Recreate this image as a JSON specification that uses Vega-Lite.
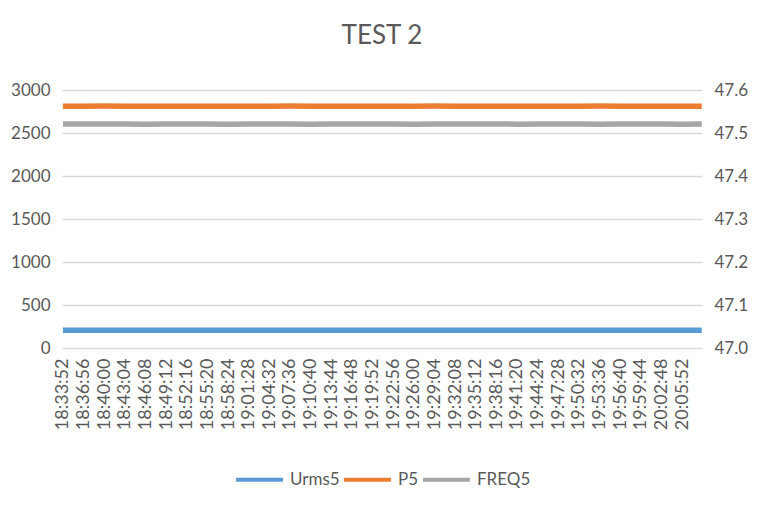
{
  "$schema": "https://vega.github.io/schema/vega-lite/v6.json",
  "width": 640,
  "height": 258,
  "autosize": {"type": "pad"},
  "padding": {"left": 10, "right": 32, "top": 23, "bottom": 20},
  "background": "white",
  "config": {"view": {"stroke": null}, "font": "Lato", "legend": {"layout": {"bottom": {"anchor": "middle"}}}},
  "title": {"text": "TEST 2", "font": "Lato", "fontSize": 26, "fontWeight": "normal", "color": "#595959", "offset": 32},
  "data": {"values": [
    {"t": "2024-01-01T18:33:52", "Urms5": 205, "P5": 2812, "FREQ5": 47.521},
    {"t": "2024-01-01T18:36:56", "Urms5": 205, "P5": 2811, "FREQ5": 47.521},
    {"t": "2024-01-01T18:40:00", "Urms5": 205, "P5": 2813, "FREQ5": 47.521},
    {"t": "2024-01-01T18:43:04", "Urms5": 205, "P5": 2812, "FREQ5": 47.521},
    {"t": "2024-01-01T18:46:08", "Urms5": 205, "P5": 2811, "FREQ5": 47.5205},
    {"t": "2024-01-01T18:49:12", "Urms5": 205, "P5": 2812, "FREQ5": 47.521},
    {"t": "2024-01-01T18:52:16", "Urms5": 205, "P5": 2811, "FREQ5": 47.521},
    {"t": "2024-01-01T18:55:20", "Urms5": 205, "P5": 2812, "FREQ5": 47.521},
    {"t": "2024-01-01T18:58:24", "Urms5": 205, "P5": 2812, "FREQ5": 47.5205},
    {"t": "2024-01-01T19:01:28", "Urms5": 205, "P5": 2811, "FREQ5": 47.521},
    {"t": "2024-01-01T19:04:32", "Urms5": 205, "P5": 2812, "FREQ5": 47.521},
    {"t": "2024-01-01T19:07:36", "Urms5": 205, "P5": 2813, "FREQ5": 47.521},
    {"t": "2024-01-01T19:10:40", "Urms5": 205, "P5": 2812, "FREQ5": 47.5205},
    {"t": "2024-01-01T19:13:44", "Urms5": 205, "P5": 2811, "FREQ5": 47.521},
    {"t": "2024-01-01T19:16:48", "Urms5": 205, "P5": 2812, "FREQ5": 47.521},
    {"t": "2024-01-01T19:19:52", "Urms5": 205, "P5": 2812, "FREQ5": 47.521},
    {"t": "2024-01-01T19:22:56", "Urms5": 205, "P5": 2811, "FREQ5": 47.521},
    {"t": "2024-01-01T19:26:00", "Urms5": 205, "P5": 2812, "FREQ5": 47.5205},
    {"t": "2024-01-01T19:29:04", "Urms5": 205, "P5": 2813, "FREQ5": 47.521},
    {"t": "2024-01-01T19:32:08", "Urms5": 205, "P5": 2812, "FREQ5": 47.521},
    {"t": "2024-01-01T19:35:12", "Urms5": 205, "P5": 2811, "FREQ5": 47.521},
    {"t": "2024-01-01T19:38:16", "Urms5": 205, "P5": 2812, "FREQ5": 47.521},
    {"t": "2024-01-01T19:41:20", "Urms5": 205, "P5": 2812, "FREQ5": 47.5205},
    {"t": "2024-01-01T19:44:24", "Urms5": 205, "P5": 2811, "FREQ5": 47.521},
    {"t": "2024-01-01T19:47:28", "Urms5": 205, "P5": 2812, "FREQ5": 47.521},
    {"t": "2024-01-01T19:50:32", "Urms5": 205, "P5": 2812, "FREQ5": 47.521},
    {"t": "2024-01-01T19:53:36", "Urms5": 205, "P5": 2813, "FREQ5": 47.5205},
    {"t": "2024-01-01T19:56:40", "Urms5": 205, "P5": 2812, "FREQ5": 47.521},
    {"t": "2024-01-01T19:59:44", "Urms5": 205, "P5": 2811, "FREQ5": 47.521},
    {"t": "2024-01-01T20:02:48", "Urms5": 205, "P5": 2812, "FREQ5": 47.521},
    {"t": "2024-01-01T20:05:52", "Urms5": 205, "P5": 2812, "FREQ5": 47.5205},
    {"t": "2024-01-01T20:08:48", "Urms5": 205, "P5": 2811, "FREQ5": 47.521}
  ]},
  "encoding": {
    "x": {
      "field": "t", "type": "temporal",
      "scale": {"domain": [
        {"year": 2024, "month": 1, "date": 1, "hours": 18, "minutes": 33, "seconds": 44},
        {"year": 2024, "month": 1, "date": 1, "hours": 20, "minutes": 8, "seconds": 50}
      ]},
      "axis": {
        "title": null,
        "format": "%H:%M:%S",
        "labelAngle": -90,
        "labelFontSize": 18,
        "labelColor": "#595959",
        "labelPadding": 10,
        "ticks": false,
        "domain": false,
        "grid": false,
        "labelOverlap": false,
        "labelFlush": false,
        "values": [
          {"year": 2024, "month": 1, "date": 1, "hours": 18, "minutes": 33, "seconds": 52},
          {"year": 2024, "month": 1, "date": 1, "hours": 18, "minutes": 36, "seconds": 56},
          {"year": 2024, "month": 1, "date": 1, "hours": 18, "minutes": 40, "seconds": 0},
          {"year": 2024, "month": 1, "date": 1, "hours": 18, "minutes": 43, "seconds": 4},
          {"year": 2024, "month": 1, "date": 1, "hours": 18, "minutes": 46, "seconds": 8},
          {"year": 2024, "month": 1, "date": 1, "hours": 18, "minutes": 49, "seconds": 12},
          {"year": 2024, "month": 1, "date": 1, "hours": 18, "minutes": 52, "seconds": 16},
          {"year": 2024, "month": 1, "date": 1, "hours": 18, "minutes": 55, "seconds": 20},
          {"year": 2024, "month": 1, "date": 1, "hours": 18, "minutes": 58, "seconds": 24},
          {"year": 2024, "month": 1, "date": 1, "hours": 19, "minutes": 1, "seconds": 28},
          {"year": 2024, "month": 1, "date": 1, "hours": 19, "minutes": 4, "seconds": 32},
          {"year": 2024, "month": 1, "date": 1, "hours": 19, "minutes": 7, "seconds": 36},
          {"year": 2024, "month": 1, "date": 1, "hours": 19, "minutes": 10, "seconds": 40},
          {"year": 2024, "month": 1, "date": 1, "hours": 19, "minutes": 13, "seconds": 44},
          {"year": 2024, "month": 1, "date": 1, "hours": 19, "minutes": 16, "seconds": 48},
          {"year": 2024, "month": 1, "date": 1, "hours": 19, "minutes": 19, "seconds": 52},
          {"year": 2024, "month": 1, "date": 1, "hours": 19, "minutes": 22, "seconds": 56},
          {"year": 2024, "month": 1, "date": 1, "hours": 19, "minutes": 26, "seconds": 0},
          {"year": 2024, "month": 1, "date": 1, "hours": 19, "minutes": 29, "seconds": 4},
          {"year": 2024, "month": 1, "date": 1, "hours": 19, "minutes": 32, "seconds": 8},
          {"year": 2024, "month": 1, "date": 1, "hours": 19, "minutes": 35, "seconds": 12},
          {"year": 2024, "month": 1, "date": 1, "hours": 19, "minutes": 38, "seconds": 16},
          {"year": 2024, "month": 1, "date": 1, "hours": 19, "minutes": 41, "seconds": 20},
          {"year": 2024, "month": 1, "date": 1, "hours": 19, "minutes": 44, "seconds": 24},
          {"year": 2024, "month": 1, "date": 1, "hours": 19, "minutes": 47, "seconds": 28},
          {"year": 2024, "month": 1, "date": 1, "hours": 19, "minutes": 50, "seconds": 32},
          {"year": 2024, "month": 1, "date": 1, "hours": 19, "minutes": 53, "seconds": 36},
          {"year": 2024, "month": 1, "date": 1, "hours": 19, "minutes": 56, "seconds": 40},
          {"year": 2024, "month": 1, "date": 1, "hours": 19, "minutes": 59, "seconds": 44},
          {"year": 2024, "month": 1, "date": 1, "hours": 20, "minutes": 2, "seconds": 48},
          {"year": 2024, "month": 1, "date": 1, "hours": 20, "minutes": 5, "seconds": 52}
        ]
      }
    }
  },
  "layer": [
    {
      "transform": [{"fold": ["Urms5", "P5"]}],
      "mark": {"type": "line", "strokeWidth": 5.5, "interpolate": "linear"},
      "encoding": {
        "y": {
          "field": "value", "type": "quantitative",
          "scale": {"domain": [0, 3000], "nice": false, "zero": true},
          "axis": {
            "title": null, "values": [0, 500, 1000, 1500, 2000, 2500, 3000], "format": "d",
            "labelFontSize": 17, "labelColor": "#595959", "labelPadding": 12,
            "ticks": false, "domain": false, "grid": true, "gridColor": "#D9D9D9", "gridWidth": 1.5
          }
        },
        "color": {
          "field": "key", "type": "nominal",
          "scale": {"domain": ["Urms5", "P5", "FREQ5"], "range": ["#5B9BD5", "#ED7D31", "#A5A5A5"]},
          "legend": {
            "title": null, "orient": "bottom", "direction": "horizontal",
            "symbolType": "stroke", "symbolSize": 2200, "symbolStrokeWidth": 4,
            "labelFontSize": 17, "labelColor": "#595959", "labelOffset": 5,
            "columnPadding": -4, "offset": 24
          }
        }
      }
    },
    {
      "transform": [{"fold": ["FREQ5"]}],
      "mark": {"type": "line", "strokeWidth": 5.5},
      "encoding": {
        "y": {
          "field": "value", "type": "quantitative",
          "scale": {"domain": [47.0, 47.6], "nice": false, "zero": false},
          "axis": {
            "title": null, "orient": "right", "values": [47.0, 47.1, 47.2, 47.3, 47.4, 47.5, 47.6], "format": ".1f",
            "labelFontSize": 17, "labelColor": "#595959", "labelPadding": 12,
            "ticks": false, "domain": false, "grid": false
          }
        },
        "color": {"field": "key", "type": "nominal"}
      }
    }
  ],
  "resolve": {"scale": {"y": "independent"}}
}
